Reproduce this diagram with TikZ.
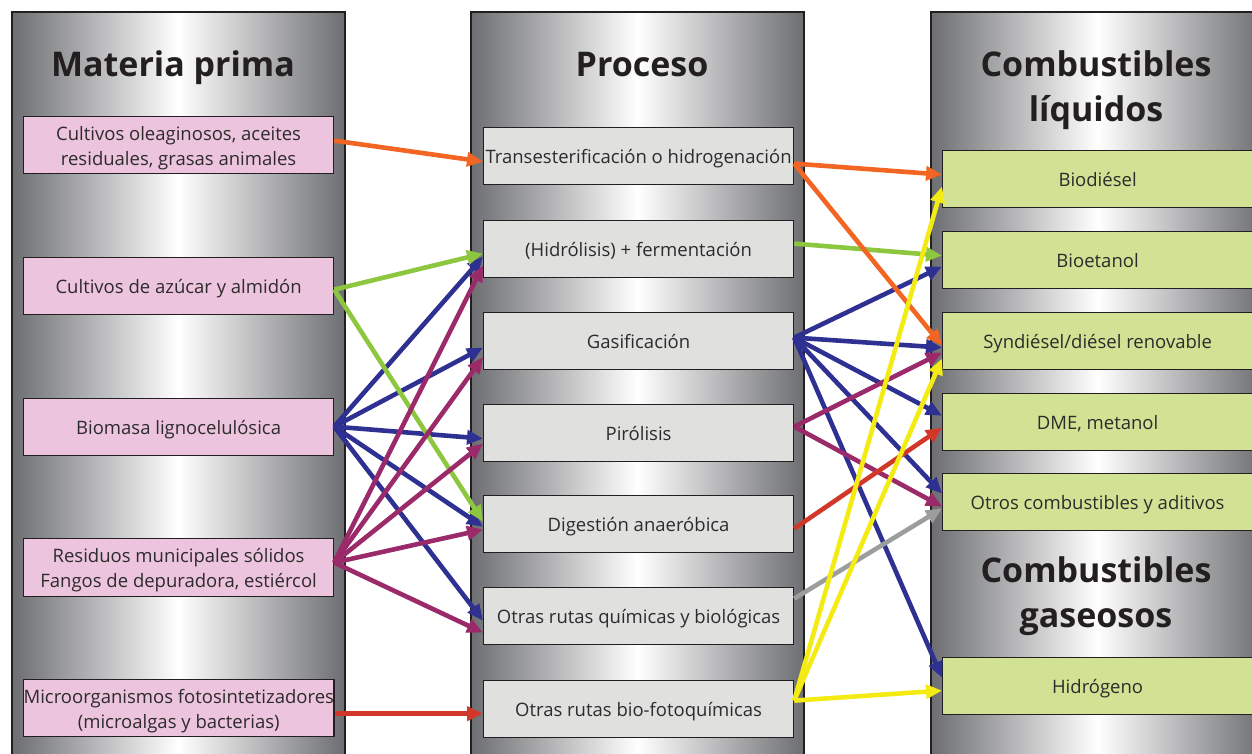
\documentclass[tikz,border=0pt]{standalone}
\usepackage{fontspec}
\setmainfont{Open Sans}
\usetikzlibrary{arrows.meta,calc}
\definecolor{colgray}{HTML}{6D6E71}
\definecolor{pinkbox}{HTML}{ECC4DE}
\definecolor{graybox}{HTML}{E0E0DF}
\definecolor{greenbox}{HTML}{D1E294}
\definecolor{txt}{HTML}{2E2B2C}
\definecolor{ttl}{HTML}{231F20}
\definecolor{cOrange}{HTML}{F26522}
\definecolor{cGreen}{HTML}{8DC63F}
\definecolor{cBlue}{HTML}{2E3192}
\definecolor{cPurple}{HTML}{9B2A6A}
\definecolor{cRed}{HTML}{D2382A}
\definecolor{cGray}{HTML}{9C9D9D}
\definecolor{cYellow}{HTML}{F5EB14}
\newcommand\bxtop{\rule{0pt}{20pt}}
\newcommand\bxbot{\rule[-5pt]{0pt}{5pt}}
\tikzset{
  colshade/.style={left color=colgray, right color=colgray, middle color=white},
  colborder/.style={draw=ttl, line width=1.3pt},
  boxbase/.style={draw=ttl, line width=1.2pt, minimum width=310pt, minimum height=57pt,
    anchor=north west, inner sep=0pt, align=center, text=txt,
    font=\fontsize{18.5}{25}\selectfont},
  lbox/.style={boxbase, fill=pinkbox},
  mbox/.style={boxbase, fill=graybox},
  rbox/.style={boxbase, fill=greenbox},
  title/.style={anchor=base, align=center, text=ttl, inner sep=0pt,
    font=\bfseries\fontsize{34}{45}\selectfont},
  arr/.style={line width=4.6pt, -{Triangle[length=16pt,width=14pt]}},
}
\begin{document}
\begin{tikzpicture}[x=1pt,y=-1pt]
\useasboundingbox (0,0) rectangle (1252,754);
\begin{scope}
\clip (0,0) rectangle (1252,754);
\shade[colshade] (12,12) rectangle (345,770);
\draw[colborder] (12,770) -- (12,12) -- (345,12) -- (345,770);
\shade[colshade] (471,12) rectangle (804,770);
\draw[colborder] (471,770) -- (471,12) -- (804,12) -- (804,770);
\shade[colshade] (931,12) rectangle (1264,770);
\draw[colborder] (931,770) -- (931,12) -- (1264,12) -- (1264,770);

\node[title] (t1) at (173,77) {Materia prima};
\node[title] (t2) at (642,77) {Proceso};
\node[title] (t3) at (1096,122) {Combustibles\\líquidos};
\node[title] (t4) at (1096,627) {Combustibles\\gaseosos};

\node[lbox] (l1) at (23,116) {\bxtop Cultivos oleaginosos, aceites\\residuales, grasas animales\bxbot};
\node[lbox] (l2) at (23,257) {\bxtop Cultivos de azúcar y almidón\bxbot};
\node[lbox] (l3) at (23,398) {\bxtop Biomasa lignocelulósica\bxbot};
\node[lbox, minimum height=58pt] (l4) at (23,538) {\bxtop Residuos municipales sólidos\\Fangos de depuradora, estiércol\bxbot};
\node[lbox] (l5) at (23,679) {\bxtop Microorganismos fotosintetizadores\\(microalgas y bacterias)\bxbot};

\node[mbox] (m1) at (483,127) {\bxtop Transesterificación o hidrogenación\bxbot};
\node[mbox] (m2) at (483,220) {\bxtop (Hidrólisis) + fermentación\bxbot};
\node[mbox] (m3) at (483,312) {\bxtop Gasificación\bxbot};
\node[mbox] (m4) at (483,404) {\bxtop Pirólisis\bxbot};
\node[mbox] (m5) at (483,495) {\bxtop Digestión anaeróbica\bxbot};
\node[mbox] (m6) at (483,587) {\bxtop Otras rutas químicas y biológicas\bxbot};
\node[mbox] (m7) at (483,680) {\bxtop Otras rutas bio-fotoquímicas\bxbot};

\node[rbox] (r1) at (942,150) {\bxtop Biodiésel\bxbot};
\node[rbox] (r2) at (942,231) {\bxtop Bioetanol\bxbot};
\node[rbox] (r3) at (942,312) {\bxtop Syndiésel/diésel renovable\bxbot};
\node[rbox] (r4) at (942,393) {\bxtop DME, metanol\bxbot};
\node[rbox] (r5) at (942,473) {\bxtop Otros combustibles y aditivos\bxbot};
\node[rbox] (r6) at (942,657) {\bxtop Hidrógeno\bxbot};
\end{scope}

% blue
\draw[arr, cBlue] ($(l3.east)+(0,-0.5)$) -- ($(m2.west)+(0,7.5)$);
\draw[arr, cBlue] ($(l3.east)+(0,-0.5)$) -- ($(m3.west)+(0,6.5)$);
\draw[arr, cBlue] ($(l3.east)+(0,-0.5)$) -- ($(m4.west)+(0,5.5)$);
\draw[arr, cBlue] ($(l3.east)+(0,-0.5)$) -- ($(m5.west)+(0,2.5)$);
\draw[arr, cBlue] ($(l3.east)+(0,-0.5)$) -- ($(m6.west)+(0,4.5)$);
\draw[arr, cBlue] ($(m3.east)+(0,-3.5)$) -- ($(r2.west)+(0,6.5)$);
\draw[arr, cBlue] ($(m3.east)+(0,-3.5)$) -- ($(r3.west)+(0,6.5)$);
\draw[arr, cBlue] ($(m3.east)+(0,-3.5)$) -- ($(r4.west)+(0,-6.5)$);
\draw[arr, cBlue] ($(m3.east)+(0,-3.5)$) -- ($(r5.west)+(0,-8.5)$);
\draw[arr, cBlue] ($(m3.east)+(0,-3.5)$) -- ($(r6.west)+(0,-8.5)$);
% green
\draw[arr, cGreen] ($(l2.east)+(0,3.5)$) -- ($(m2.west)+(0,4.5)$);
\draw[arr, cGreen] ($(l2.east)+(0,3.5)$) -- ($(m5.west)+(0,-2.5)$);
\draw[arr, cGreen] ($(m2.east)+(0,-5.5)$) -- ($(r2.west)+(0,-4.5)$);
% purple
\draw[arr, cPurple] ($(l4.east)+(0,-5)$) -- ($(m2.west)+(0,16.5)$);
\draw[arr, cPurple] ($(l4.east)+(0,-5)$) -- ($(m3.west)+(0,16)$);
\draw[arr, cPurple] ($(l4.east)+(0,-5)$) -- ($(m4.west)+(0,10.5)$);
\draw[arr, cPurple] ($(l4.east)+(0,-5)$) -- ($(m5.west)+(0,5.5)$);
\draw[arr, cPurple] ($(l4.east)+(0,-5)$) -- ($(m6.west)+(0,16.5)$);
\draw[arr, cPurple] ($(m4.east)+(0,-6.5)$) -- ($(r3.west)+(0,11.5)$);
\draw[arr, cPurple] ($(m4.east)+(0,-6.5)$) -- ($(r5.west)+(0,4.5)$);
% red
\draw[arr, cRed] ($(l5.east)+(0,5.5)$) -- ($(m7.west)+(0,4.5)$);
\draw[arr, cRed] ($(m5.east)+(0,4.5)$) -- ($(r4.west)+(0,5.5)$);
% gray
\draw[arr, cGray] ($(m6.east)+(0,-17.5)$) -- ($(r5.west)+(0,6.5)$);
% orange
\draw[arr, cOrange] ($(l1.east)+(0,-4.5)$) -- ($(m1.west)+(0,5.5)$);
\draw[arr, cOrange] ($(m1.east)+(0,7.5)$) -- ($(r1.west)+(0,-4.5)$);
\draw[arr, cOrange] ($(m1.east)+(0,7.5)$) -- ($(r3.west)+(0,4.5)$);
% yellow
\draw[arr, cYellow] ($(m7.east)+(0,-8.5)$) -- ($(r1.west)+(0,7.5)$);
\draw[arr, cYellow] ($(m7.east)+(0,-8.5)$) -- ($(r3.west)+(0,17.5)$);
\draw[arr, cYellow] ($(m7.east)+(0,-8.5)$) -- ($(r6.west)+(0,4.5)$);
\end{tikzpicture}
\end{document}
